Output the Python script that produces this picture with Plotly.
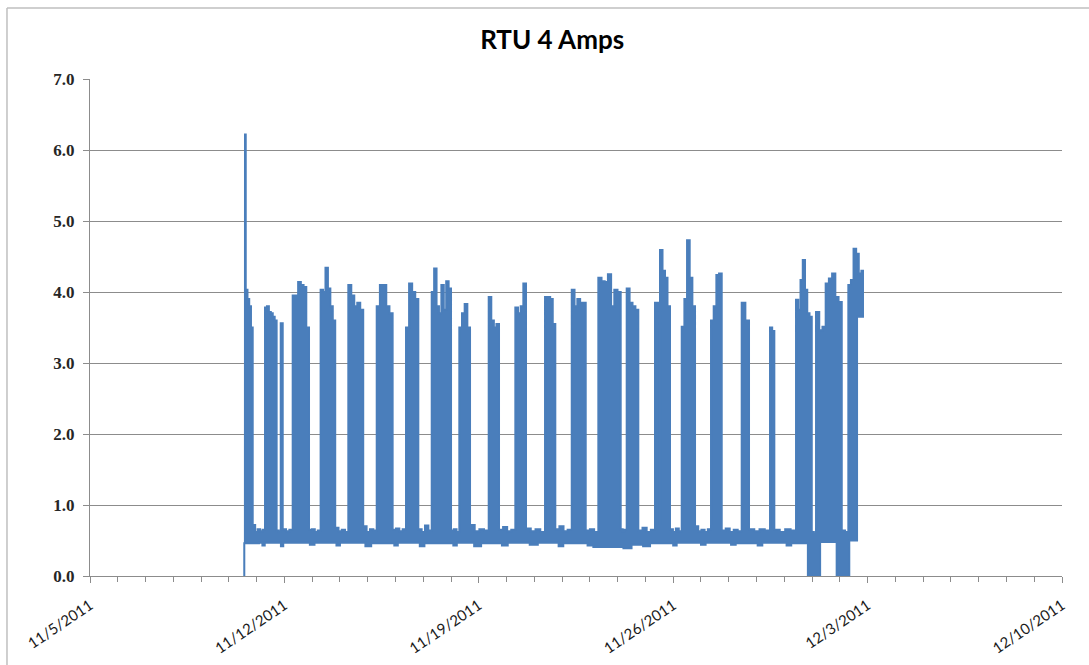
import pandas as pd
import plotly.graph_objects as go

# ---------------- data ----------------
# "on" blocks of the compressor: start, end, and the upper envelope of the readings (A)
block_on = [
    "2011-11-10 13:05", "2011-11-11 07:15", "2011-11-11 20:49", "2011-11-12 07:10",
    "2011-11-13 07:18", "2011-11-14 07:14", "2011-11-15 07:47", "2011-11-16 09:06",
    "2011-11-17 07:19", "2011-11-18 07:10", "2011-11-19 08:34", "2011-11-20 07:34",
    "2011-11-21 09:14", "2011-11-22 08:19", "2011-11-23 07:18", "2011-11-24 07:49",
    "2011-11-25 08:17", "2011-11-25 12:36", "2011-11-26 07:22", "2011-11-27 08:41",
    "2011-11-28 11:12", "2011-11-29 11:41", "2011-11-30 10:09", "2011-12-01 03:26",
    "2011-12-02 07:21",
]
block_off = [
    "2011-11-10 20:37", "2011-11-11 17:17", "2011-11-11 22:33", "2011-11-12 21:16",
    "2011-11-13 19:55", "2011-11-14 20:07", "2011-11-15 21:32", "2011-11-16 19:44",
    "2011-11-18 00:00", "2011-11-18 16:25", "2011-11-19 17:28", "2011-11-20 16:48",
    "2011-11-21 18:07", "2011-11-22 20:24", "2011-11-24 02:38", "2011-11-24 17:51",
    "2011-11-25 11:44", "2011-11-25 21:14", "2011-11-26 18:52", "2011-11-27 17:56",
    "2011-11-28 17:31", "2011-11-29 15:24", "2011-11-30 23:44", "2011-12-02 01:40",
    "2011-12-02 20:53",
]
block_tops = [
    [6.22, 4.03, 3.9, 3.8, 3.5],
    [3.78, 3.8, 3.72, 3.7, 3.65, 3.6],
    [3.56, 3.56],
    [3.95, 3.95, 4.14, 4.1, 4.07, 3.5],
    [4.03, 4.0, 4.34, 4.05, 3.8, 3.6],
    [4.1, 3.95, 3.8, 3.85, 3.75],
    [3.8, 4.1, 4.1, 3.8, 3.7],
    [3.5, 4.12, 4.0, 3.9],
    [4.0, 4.33, 3.8, 3.7, 4.1, 3.75, 4.15, 4.05],
    [3.5, 3.7, 3.83, 3.5],
    [3.93, 3.6, 3.5, 3.55],
    [3.78, 3.7, 3.8, 4.12],
    [3.93, 3.93, 3.9, 3.55],
    [4.03, 3.8, 3.9, 3.85, 3.85],
    [4.2, 4.15, 4.14, 4.25, 3.8, 4.03, 4.0],
    [4.05, 3.85, 3.8, 3.75],
    [3.85, 3.85],
    [4.59, 4.3, 4.2, 3.8],
    [3.51, 3.9, 4.73, 4.2, 3.8],
    [3.6, 3.8, 4.24, 4.26],
    [3.85, 3.6],
    [3.5, 3.45],
    [3.89, 3.75, 4.17, 4.45, 4.03, 3.7, 3.65],
    [3.72, 3.46, 3.51, 4.12, 4.19, 4.26, 3.93, 3.86],
    [4.1, 4.17, 4.61, 4.54, 4.26, 4.3],
]
# upper edge of the idle (fan only) readings between blocks (A)
gap_tops = [
    [0.72, 0.62, 0.66, 0.63, 0.65],
    [0.64, 0.62],
    [0.66, 0.63, 0.65],
    [0.65, 0.66, 0.62, 0.64],
    [0.68, 0.63, 0.65, 0.62],
    [0.70, 0.62, 0.66, 0.64],
    [0.65, 0.67, 0.63, 0.66],
    [0.66, 0.62, 0.71, 0.64],
    [0.64, 0.66, 0.62],
    [0.72, 0.63, 0.66, 0.64],
    [0.65, 0.69, 0.63, 0.65],
    [0.67, 0.63, 0.66, 0.62],
    [0.66, 0.70, 0.63, 0.65],
    [0.64, 0.66, 0.62],
    [0.66, 0.63, 0.65],
    [0.64, 0.68, 0.62, 0.65],
    [0.60, 0.60],
    [0.66, 0.62, 0.67, 0.63],
    [0.70, 0.63, 0.65, 0.62, 0.66],
    [0.64, 0.67, 0.62, 0.65, 0.63],
    [0.66, 0.63, 0.66, 0.64],
    [0.65, 0.62, 0.66, 0.64],
    [0.62, 0.60],
    [0.64, 0.62],
]
# lower edge of all readings (A), step-wise
floor_times = [
    "2011-11-10 13:00", "2011-11-10 13:20", "2011-11-11 02:00", "2011-11-11 05:00",
    "2011-11-11 07:00", "2011-11-11 21:00", "2011-11-11 23:00", "2011-11-12 22:00",
    "2011-11-13 02:00", "2011-11-13 21:00", "2011-11-14 00:00", "2011-11-14 22:00",
    "2011-11-15 03:00", "2011-11-15 23:00", "2011-11-16 02:00", "2011-11-16 21:00",
    "2011-11-17 01:00", "2011-11-18 02:00", "2011-11-18 05:00", "2011-11-18 20:00",
    "2011-11-19 02:00", "2011-11-19 20:00", "2011-11-20 01:00", "2011-11-20 20:00",
    "2011-11-21 03:00", "2011-11-21 21:00", "2011-11-22 01:00", "2011-11-22 22:00",
    "2011-11-23 03:00", "2011-11-24 05:00", "2011-11-24 12:00", "2011-11-24 22:00",
    "2011-11-25 04:00", "2011-11-26 00:00", "2011-11-26 03:00", "2011-11-27 00:00",
    "2011-11-27 04:00", "2011-11-28 02:00", "2011-11-28 06:00", "2011-11-29 01:00",
    "2011-11-29 05:00", "2011-11-30 02:00", "2011-11-30 06:00", "2011-11-30 20:24",
    "2011-12-01 06:58", "2011-12-01 21:16", "2011-12-02 08:10", "2011-12-02 14:53",
    "2011-12-02 20:53",
]
floor_values = [
    0.0, 0.46, 0.47, 0.43,
    0.47, 0.42, 0.47, 0.44,
    0.47, 0.43, 0.47, 0.42,
    0.46, 0.43, 0.47, 0.42,
    0.46, 0.43, 0.47, 0.42,
    0.46, 0.43, 0.47, 0.44,
    0.47, 0.42, 0.46, 0.43,
    0.41, 0.39, 0.44, 0.42,
    0.46, 0.43, 0.47, 0.44,
    0.47, 0.44, 0.46, 0.43,
    0.47, 0.43, 0.46, 0.0,
    0.48, 0.0, 0.50, 3.65,
    3.65,
]
tick_dates = ["2011-11-05", "2011-11-12", "2011-11-19", "2011-11-26", "2011-12-03", "2011-12-10"]
tick_labels = ["11/5/2011", "11/12/2011", "11/19/2011", "11/26/2011", "12/3/2011", "12/10/2011"]
y_ticks = [0, 1, 2, 3, 4, 5, 6, 7]
title_text = "RTU 4 Amps"

# ---------------- build the step envelope ----------------
def steps(t0, t1, vals):
    """Place the readings of one stretch one after the other between t0 and t1."""
    t0, t1 = pd.Timestamp(t0), pd.Timestamp(t1)
    n = len(vals)
    return [t0 + (t1 - t0) * k / n for k in range(n)], list(vals)

top_t, top_v = [], []
for i in range(len(block_on)):
    ts, vs = steps(block_on[i], block_off[i], block_tops[i])
    top_t += ts
    top_v += vs
    if i < len(gap_tops):
        ts, vs = steps(block_off[i], block_on[i + 1], gap_tops[i])
        top_t += ts
        top_v += vs
top_t.append(pd.Timestamp(block_off[-1]))
top_v.append(block_tops[-1][-1])

BLUE = "#4A7EBB"
GRID = "#8C8C8C"

fig = go.Figure()
fig.add_trace(go.Scatter(
    x=pd.to_datetime(floor_times), y=floor_values, mode="lines",
    line=dict(color=BLUE, width=2, shape="hv"), hoverinfo="skip", showlegend=False))
fig.add_trace(go.Scatter(
    x=top_t, y=top_v, mode="lines",
    line=dict(color=BLUE, width=2, shape="hv"), fill="tonexty", fillcolor=BLUE,
    hoverinfo="skip", showlegend=False))

fig.update_layout(
    width=1089, height=665,
    margin=dict(l=90, r=27, t=79, b=89, autoexpand=False),
    paper_bgcolor="white", plot_bgcolor="white",
    showlegend=False,
    title=dict(text=title_text, x=0.507, xref="container", xanchor="center",
               y=0.94, yref="container", yanchor="middle",
               font=dict(family="Lato", size=26, color="black", weight="bold")),
    xaxis=dict(
        type="date", range=["2011-11-05", "2011-12-10"], automargin=False,
        tickmode="array", tickvals=tick_dates, ticktext=tick_labels,
        tickangle=-34, ticks="outside", ticklen=6, tickcolor=GRID, tickwidth=1,
        ticklabelstandoff=8,
        showline=True, linecolor=GRID, linewidth=1, showgrid=False, zeroline=False,
        minor=dict(tickmode="linear", tick0="2011-11-05", dtick=86400000,
                   ticks="outside", ticklen=5, tickcolor=GRID, tickwidth=1, showgrid=False),
        tickfont=dict(family="Lato", size=15, color="#1a1a1a"),
    ),
    yaxis=dict(
        range=[0, 7], tickmode="array", tickvals=y_ticks, tickformat=".1f", automargin=False,
        showgrid=True, gridcolor=GRID, gridwidth=1,
        ticks="outside", ticklen=6, tickcolor=GRID,
        showline=True, linecolor=GRID, linewidth=1, zeroline=False,
        ticklabelstandoff=5,
        tickfont=dict(family="Liberation Serif", size=17, color="#262626", weight="bold"),
    ),
    shapes=[
        dict(type="line", xref="paper", yref="paper", x0=-0.0854, x1=-0.0854, y0=-0.2, y1=1.1429,
             line=dict(color="#BFBFBF", width=1.5)),
        dict(type="line", xref="paper", yref="paper", x0=-0.0854, x1=1.03, y0=1.1429, y1=1.1429,
             line=dict(color="#BFBFBF", width=1.5)),
    ],
)

fig.write_html("out.html")
